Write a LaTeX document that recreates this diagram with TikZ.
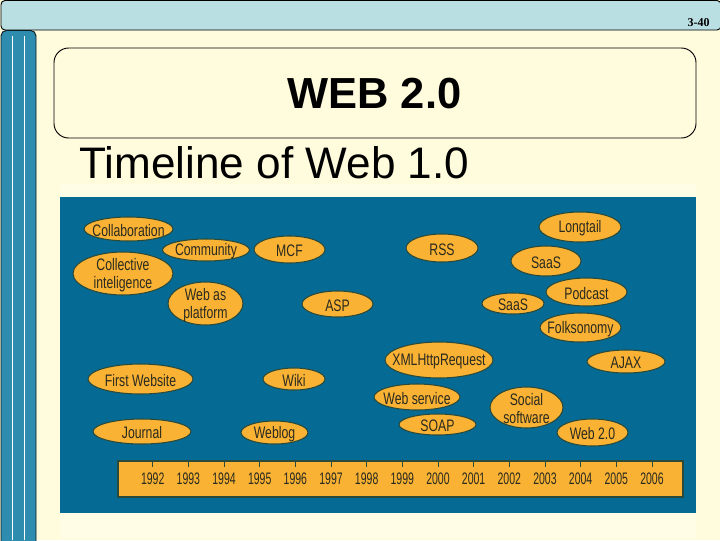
\documentclass[tikz,border=0pt]{standalone}
\usepackage{fontspec}
\usetikzlibrary{shapes.geometric}
\setmainfont{Liberation Sans}
\newfontfamily\narrowfont[FakeStretch=0.735]{Liberation Sans}
\newfontfamily\yearfont[FakeStretch=0.63]{Liberation Sans}
\newfontfamily\pagefont{Liberation Serif}
\definecolor{pagebg}{HTML}{FFFBDD}
\definecolor{panelbg}{HTML}{FFFDE6}
\definecolor{headbg}{HTML}{BADFE3}
\definecolor{sidebg}{HTML}{2E8CAF}
\definecolor{tealbg}{HTML}{056B94}
\definecolor{amber}{HTML}{F9B233}
\definecolor{ovaledge}{HTML}{2A4A3C}
\definecolor{inkdark}{HTML}{2A2A20}
\tikzset{
  x=0.75pt,y=-0.75pt,
  ovalshape/.style={ellipse,draw=ovaledge,fill=amber,line width=0.8pt,inner sep=0pt,outer sep=0pt},
  ovaltext/.style={font=\narrowfont\fontsize{12.5}{13.5}\selectfont,text=inkdark,align=center,inner sep=0pt,yshift=-1pt},
  yeartext/.style={font=\yearfont\fontsize{12.5}{13.5}\selectfont,text=inkdark,inner sep=0pt},
  tick/.style={draw=ovaledge,line width=0.5pt},
}
\newcommand{\ovalitem}[6]{%
  \node[ovalshape,minimum width=#4*0.75pt,minimum height=#5*0.75pt] (#1) at (#2,#3) {};
  \node[ovaltext] (#1-t) at (#1) {#6};
}
\begin{document}
\begin{tikzpicture}
\useasboundingbox (0,0) rectangle (720,540);
\fill[pagebg] (0,0) rectangle (720,540);
\fill[panelbg] (60,184) rectangle (696,538);
% header and side bar
\draw[fill=headbg,line width=0.7pt,rounded corners=3pt] (1,0.5) -- (1,30) -- (721,30) -- (721,0.5) -- cycle;
\draw[fill=sidebg,draw=black!80!sidebg,line width=0.7pt,rounded corners=4pt] (1,541) -- (1,30.5) -- (36,30.5) -- (36,541);
\draw[white,line width=0.5pt] (12,36) -- (12,540) (24,36) -- (24,540);
\node[font=\pagefont\bfseries\fontsize{9}{10}\selectfont,inner sep=0pt] (pageno) at (698.5,22.5) {3-40};
% title box
\draw[fill=pagebg,line width=0.7pt,rounded corners=11pt] (54,48) rectangle (696,138);
\node[font=\bfseries\fontsize{32.6}{36}\selectfont,inner sep=0pt] (title) at (374.5,94) {WEB 2.0};
\node[font=\fontsize{33.1}{36}\selectfont,inner sep=0pt,anchor=west] (subtitle) at (79,162.5) {Timeline of Web 1.0};
% panel
\fill[tealbg] (60,197) rectangle (696,513);
\ovalitem{collab}{128.5}{229}{89}{24}{Collaboration}
\ovalitem{community}{206}{250}{87}{22}{Community}
\ovalitem{mcf}{289.5}{249.5}{71}{27}{MCF}
\ovalitem{collective}{123}{273.5}{100}{43}{Collective\\inteligence}
\ovalitem{webplat}{205.5}{303.5}{75}{43}{Web as\\platform}
\ovalitem{asp}{337.5}{304}{71}{26}{ASP}
\ovalitem{rss}{442}{248}{72}{28}{RSS}
\ovalitem{longtail}{580}{227}{82}{30}{Longtail}
\ovalitem{saasa}{546}{261}{70}{30}{SaaS}
\ovalitem{podcast}{586.5}{292}{81}{28}{Podcast}
\ovalitem{saasb}{513}{303.5}{62}{21}{SaaS}
\ovalitem{folk}{580.5}{327.5}{81}{29}{Folksonomy}
\ovalitem{xml}{439}{360}{108}{36}{XMLHttpRequest}
\ovalitem{ajax}{626}{361.5}{78}{23}{AJAX}
\ovalitem{first}{140.5}{379}{105}{30}{First Website}
\ovalitem{wiki}{294}{379}{62}{22}{Wiki}
\ovalitem{journal}{142}{431.5}{98}{25}{Journal}
\ovalitem{weblog}{274.5}{432.5}{67}{23}{Weblog}
\ovalitem{webserv}{417}{397}{86}{26}{Web service}
\ovalitem{soap}{437.5}{424.5}{77}{21}{SOAP}
\ovalitem{social}{526.5}{407.5}{73}{41}{Social\\software}
\ovalitem{webtwo}{592.5}{432.5}{71}{27}{Web 2.0}
% timeline bar
\draw[fill=amber,draw=ovaledge,line width=0.8pt] (118,461) rectangle (683,497);
\foreach \yr [count=\i from 0] in {1992,...,2006}{
  \pgfmathsetmacro{\xx}{152.7+35.66*\i}
  \draw[tick] (\xx,461) -- (\xx,467);
  \node[yeartext] (y\yr) at (\xx,479) {\yr};
}
\end{tikzpicture}
\end{document}
